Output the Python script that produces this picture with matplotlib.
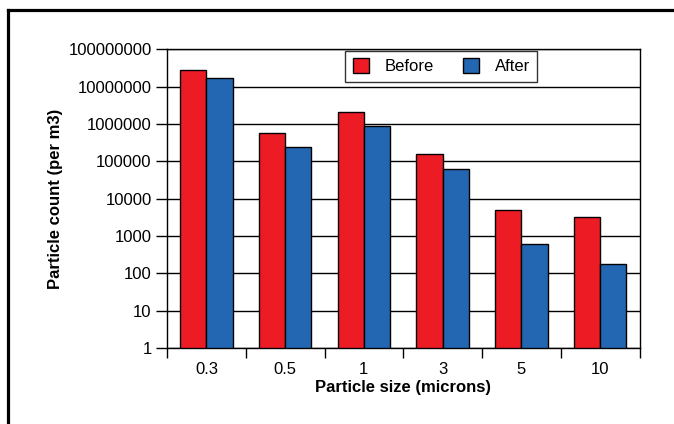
import matplotlib
matplotlib.use("Agg")
import matplotlib.pyplot as plt
import numpy as np
from matplotlib.lines import Line2D
from matplotlib.ticker import FixedLocator, NullLocator

categories = ["0.3", "0.5", "1", "3", "5", "10"]
before = [2.8e7, 5.6e5, 2.1e6, 1.55e5, 4.9e3, 3.2e3]
after = [1.7e7, 2.45e5, 8.8e5, 6.2e4, 610, 180]
series_names = ["Before", "After"]
ytick_values = [1, 10, 100, 1000, 10000, 100000, 1000000, 10000000, 100000000]
ytick_labels = [str(v) for v in ytick_values]

RED = "#ED1C24"
BLUE = "#2366B1"
FS = 12

plt.rcParams['font.family'] = ['Liberation Sans', 'DejaVu Sans']

W, H = 674, 424
fig = plt.figure(figsize=(W / 100, H / 100), dpi=100)
ax = fig.add_axes([167 / W, 1 - 348 / H, (639.5 - 167) / W, (348 - 49.3) / H])

x = np.arange(len(categories))
bw = 0.334
ax.bar(x - bw / 2, before, width=bw, color=RED, edgecolor="black", linewidth=1.0,
       label=series_names[0], zorder=3, bottom=1)
ax.bar(x + bw / 2, after, width=bw, color=BLUE, edgecolor="black", linewidth=1.0,
       label=series_names[1], zorder=3, bottom=1)

ax.set_yscale("log")
ax.set_ylim(1, 1e8)
ax.set_xlim(-0.5, len(categories) - 0.5)
ax.yaxis.set_major_locator(FixedLocator(ytick_values))
ax.set_yticklabels(ytick_labels)
ax.yaxis.set_minor_locator(NullLocator())
ax.yaxis.grid(True, color="black", linewidth=1.0, zorder=0)
ax.set_axisbelow(True)

# category labels at centers, tick marks at boundaries
ax.set_xticks(x)
ax.set_xticklabels(categories)
ax.tick_params(axis="x", which="major", length=0, pad=10, labelsize=FS)
ax.set_xticks(np.arange(len(categories) + 1) - 0.5, minor=True)
ax.tick_params(axis="x", which="minor", length=7, width=1, direction="out")
ax.tick_params(axis="y", which="major", length=8, width=1, direction="out", pad=3,
               labelsize=FS)

for s in ax.spines.values():
    s.set_linewidth(1.0)
    s.set_color("black")

ax.set_xlabel("Particle size (microns)", fontsize=FS, fontweight="bold", labelpad=2)
ax.set_ylabel("Particle count (per m3)", fontsize=FS, fontweight="bold", labelpad=4)

leg = ax.legend(loc="center", bbox_to_anchor=(441.3 / W, 1 - 66.2 / H),
                bbox_transform=fig.transFigure, ncol=2, frameon=True, fancybox=False,
                edgecolor="black", fontsize=FS, handlelength=0.95, handleheight=0.95,
                handletextpad=0.95, columnspacing=1.75, borderpad=0.45, borderaxespad=0)
leg.get_frame().set_linewidth(1.0)
leg.set_zorder(5)

# outer frame (extends beyond right and bottom of image)
fig.add_artist(Line2D([7.5 / W, 7.5 / W], [1 - 9.5 / H, -0.05], transform=fig.transFigure,
                      color="black", linewidth=2.3, solid_capstyle="projecting"))
fig.add_artist(Line2D([7.5 / W, 1.05], [1 - 9.5 / H, 1 - 9.5 / H], transform=fig.transFigure,
                      color="black", linewidth=2.3, solid_capstyle="projecting"))

fig.savefig("out.png", dpi=100)
